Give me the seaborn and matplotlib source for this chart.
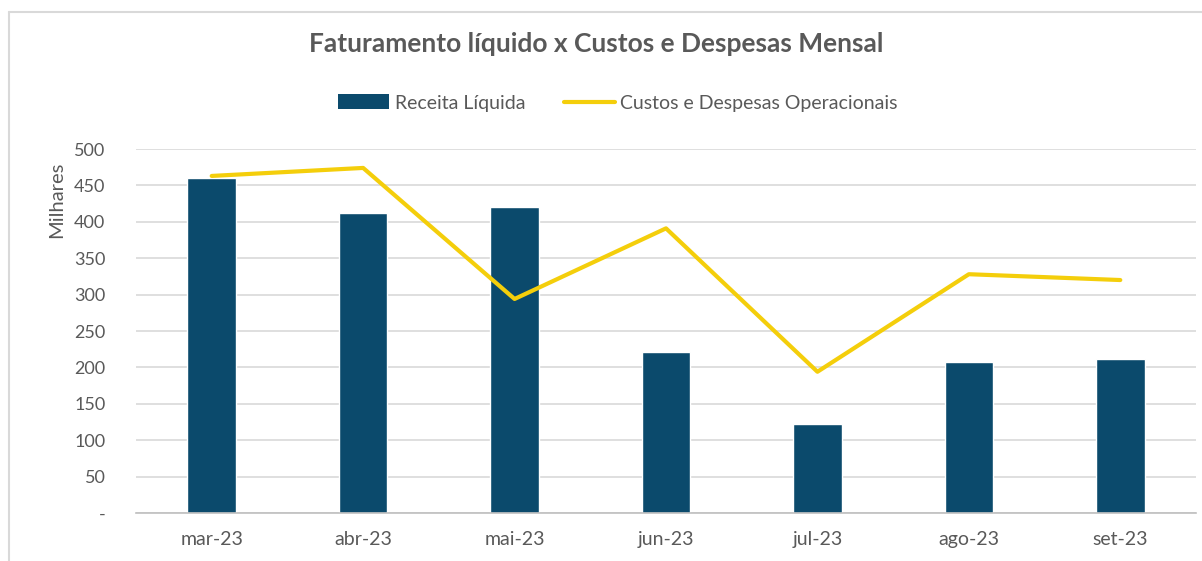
import numpy as np
import pandas as pd
import matplotlib.pyplot as plt
import seaborn as sns
from matplotlib.lines import Line2D
from matplotlib.patches import Patch

# Data (thousands)
months = ["mar-23", "abr-23", "mai-23", "jun-23", "jul-23", "ago-23", "set-23"]
receita = [460, 412, 420, 221, 122, 208, 211]
custos = [463, 474, 294, 391, 194, 328, 320]

df = pd.DataFrame({"mes": months, "receita": receita, "custos": custos,
                   "pos": np.arange(len(months))})

sns.set_theme(style="white")
plt.rcParams["font.family"] = ["Lato", "DejaVu Sans"]

bar_color = "#0B4A6C"
line_color = "#F4CE0B"
text_color = "#595959"

fig = plt.figure(figsize=(12.02, 5.61), dpi=100)
ax = fig.add_axes([136 / 1202, 1 - 513 / 561, (1196 - 136) / 1202, (513 - 149) / 561])

sns.barplot(data=df, x="mes", y="receita", color=bar_color, width=0.32,
            saturation=1, ax=ax, zorder=2)
sns.lineplot(data=df, x="pos", y="custos", color=line_color, linewidth=3,
             ax=ax, zorder=3)

ax.set_xlim(-0.5, len(months) - 0.5)
ax.set_ylim(0, 500)
yt = np.arange(0, 501, 50)
ax.set_yticks(yt)
ax.set_yticklabels(["-"] + [str(v) for v in yt[1:]])
ax.set_xticks(np.arange(len(months)))
ax.set_xticklabels(months)
ax.set_xticks(np.arange(len(months) + 1) - 0.5, minor=True)
ax.set_xlabel("")
ax.set_ylabel("")

ax.yaxis.grid(True, color="#D9D9D9", linewidth=1.2, zorder=0)
ax.set_axisbelow(True)
for s in ["left", "right", "top"]:
    ax.spines[s].set_visible(False)
ax.spines["bottom"].set_color("#BFBFBF")
ax.spines["bottom"].set_linewidth(1.2)
ax.tick_params(axis="y", length=0, pad=22, labelsize=13, labelcolor=text_color)
ax.tick_params(axis="x", which="major", length=0, pad=13, labelsize=14,
               labelcolor=text_color)
ax.tick_params(axis="x", which="minor", length=5, color="#BFBFBF", width=1.2)

fig.text(57 / 1202, 1 - 200 / 561, "Milhares", rotation=90, ha="center",
         va="center", fontsize=14.5, color=text_color)
fig.text(596 / 1202, 1 - 44 / 561, "Faturamento líquido x Custos e Despesas Mensal",
         ha="center", va="center", fontsize=19, fontweight="bold", color=text_color)

handles = [Patch(facecolor=bar_color, edgecolor="none", label="Receita Líquida"),
           Line2D([0], [0], color=line_color, linewidth=3,
                  label="Custos e Despesas Operacionais")]
fig.legend(handles=handles, loc="center", bbox_to_anchor=(618 / 1202, 1 - 103 / 561),
           ncol=2, frameon=False, fontsize=14, labelcolor=text_color,
           handlelength=2.6, handleheight=0.8, handletextpad=0.3, columnspacing=2.0)

# chart border
fig.add_artist(Line2D([9 / 1202, 9 / 1202], [0, 1 - 12 / 561], color="#D9D9D9",
                      linewidth=1.5, transform=fig.transFigure))
fig.add_artist(Line2D([9 / 1202, 1], [1 - 12 / 561, 1 - 12 / 561], color="#D9D9D9",
                      linewidth=1.5, transform=fig.transFigure))

fig.savefig("out.png", dpi=100, facecolor="white")
